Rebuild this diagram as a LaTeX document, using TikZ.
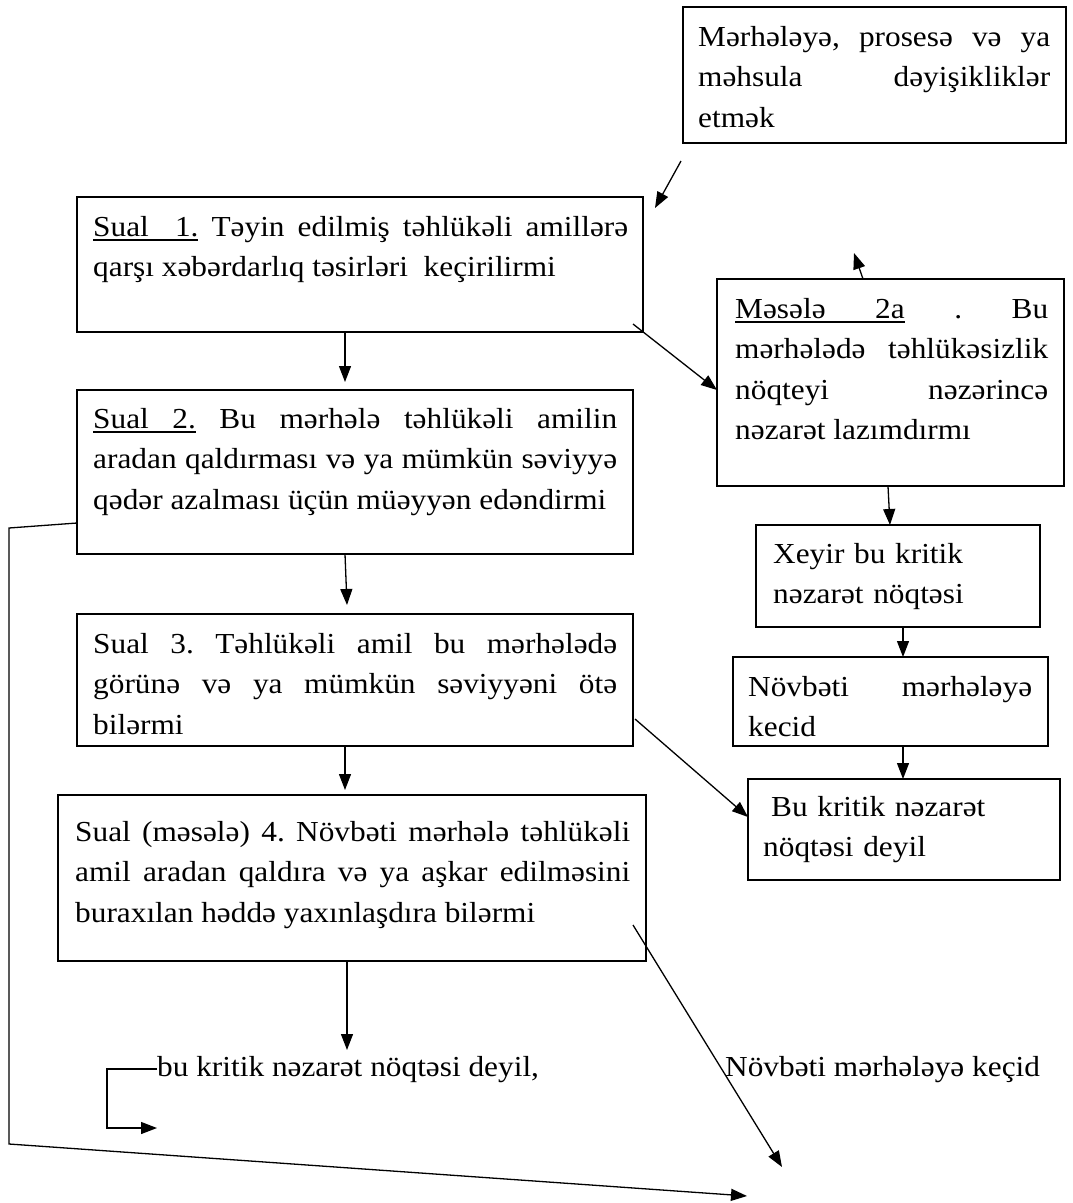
\documentclass[tikz,border=0pt]{standalone}
\usepackage{fontspec}
\setmainfont{Liberation Serif}[FakeStretch=1.08]
\usetikzlibrary{arrows.meta,calc}
\tolerance=9999
\hyphenpenalty=10000
\exhyphenpenalty=10000
\frenchspacing

% underlined word and underlined (stretchable) space
\newcommand\altsoz[1]{\setbox0\hbox{#1}\rlap{\vrule height -3.2pt depth 4.5pt width\wd0}\box0\relax}
\newcommand\altara{\leaders\hrule height -3.2pt depth 4.5pt\hskip\fontdimen2\font plus\fontdimen3\font minus\fontdimen4\font\relax}

\tikzset{
  blok/.style={draw, line width=1.3pt, anchor=north west, inner sep=0pt, outer sep=0pt},
  yazi/.style={anchor=base west, inner sep=0pt, align=justify, font=\fontsize{29}{40.5}\selectfont},
  duz/.style={anchor=base west, inner sep=0pt, align=left, font=\fontsize{29}{40.5}\selectfont},
  ox/.style={line width=1.3pt, -{Triangle[length=16pt,width=12pt]}},
}

\begin{document}
\begin{tikzpicture}[x=1pt,y=-1pt]
  \useasboundingbox (0,0) rectangle (1072,1203);

  % Define boxes
  \node[blok, minimum width=383, minimum height=136] (q0)    at (683,7)   {};
  \node[blok, minimum width=566, minimum height=135] (q1)    at (77,197)  {};
  \node[blok, minimum width=347, minimum height=207] (q2a)   at (717,279) {};
  \node[blok, minimum width=556, minimum height=164] (q2)    at (77,390)  {};
  \node[blok, minimum width=284, minimum height=102] (xeyir) at (756,525) {};
  \node[blok, minimum width=556, minimum height=132] (q3)    at (77,614)  {};
  \node[blok, minimum width=315, minimum height=89]  (kecid) at (733,657) {};
  \node[blok, minimum width=312, minimum height=101] (deyil) at (748,779) {};
  \node[blok, minimum width=588, minimum height=166] (q4)    at (58,795)  {};

  % Texts in the boxes
  \node[yazi, text width=352] (q0y) at ($(q0.north west)+(15,39)$)
    {Mərhələyə, prosesə və ya\linebreak məhsula dəyişikliklər\linebreak etmək};
  \node[yazi, text width=535] (q1y) at ($(q1.north west)+(16,39)$)
    {\altsoz{Sual}\altara\altara\altsoz{1.} Təyin edilmiş təhlükəli amillərə\linebreak qarşı xəbərdarlıq təsirləri\ \ keçirilirmi};
  \node[yazi, text width=313] (q2ay) at ($(q2a.north west)+(18,39)$)
    {\altsoz{Məsələ}\altara\altsoz{2a} . Bu\linebreak mərhələdə təhlükəsizlik\linebreak nöqteyi nəzərincə\linebreak nəzarət lazımdırmı};
  \node[yazi, text width=524] (q2y) at ($(q2.north west)+(16,38)$)
    {\altsoz{Sual}\altara\altsoz{2.} Bu mərhələ təhlükəli amilin\linebreak aradan qaldırması və ya mümkün səviyyə\linebreak qədər azalması üçün müəyyən edəndirmi};
  \node[duz, text width=255] (xeyiry) at ($(xeyir.north west)+(17,38)$)
    {Xeyir bu kritik\\nəzarət nöqtəsi};
  \node[yazi, text width=524] (q3y) at ($(q3.north west)+(16,39)$)
    {Sual 3. Təhlükəli amil bu mərhələdə\linebreak görünə və ya mümkün səviyyəni ötə\linebreak bilərmi};
  \node[yazi, text width=284] (kecidy) at ($(kecid.north west)+(15,39)$)
    {Növbəti mərhələyə\linebreak kecid};
  \node[duz, text width=285] (deyily) at ($(deyil.north west)+(15,37)$)
    {\hspace*{8pt}Bu kritik nəzarət\\nöqtəsi deyil};
  \node[yazi, text width=555] (q4y) at ($(q4.north west)+(17,46)$)
    {Sual (məsələ) 4. Növbəti mərhələ təhlükəli\linebreak amil aradan qaldıra və ya aşkar edilməsini\linebreak buraxılan həddə yaxınlaşdıra bilərmi};

  % Free texts
  \node[duz] (t1) at (157,1076) {bu kritik nəzarət nöqtəsi deyil,};
  \node[duz] (t2) at (725,1076) {Növbəti mərhələyə keçid};

  % Free ends
  \coordinate (alt)  at (782,1167);
  \coordinate (sol1) at (9,528);
  \coordinate (sol2) at (9,1144);
  \coordinate (son)  at (747,1196);
  \coordinate (k1)   at (157,1128);

  % Connect the boxes
  \draw[ox] ($(q0.south west)+(-2,18)$) -- ($(q1.north east)+(12,11)$);
  \draw[ox] ($(q2a.north west)+(146,0)$) -- ++(-9,-26);
  \draw[ox] ($(q1.south west)+(268,0)$) -- ($(q2.north west)+(268,-8)$);
  \draw[ox] ($(q1.south east)+(-10,-8)$) -- ($(q2a.north west)+(0,111)$);
  \draw[ox] ($(q2a.south west)+(171,0)$) -- ($(xeyir.north west)+(134,0)$);
  \draw[ox] ($(q2.south west)+(268,0)$) -- ($(q3.north west)+(270,-9)$);
  \draw[ox] ($(xeyir.south west)+(147,0)$) -- ($(kecid.north west)+(170,0)$);
  \draw[ox] ($(q3.south west)+(268,0)$) -- ($(q4.north west)+(287,-5)$);
  \draw[ox] ($(kecid.south west)+(170,0)$) -- ($(deyil.north west)+(155,0)$);
  \draw[ox] ($(q3.south east)+(2,-27)$) -- ($(deyil.north west)+(0,38)$);
  \draw[ox] ($(q4.south west)+(289,0)$) -- ++(0,89);
  \draw[ox] ($(q4.south east)+(-13,-36)$) -- (alt);
  \draw[ox] ($(q2.south west)+(0,-31)$) -- (sol1) -- (sol2) -- (son);
  \draw[ox] (t1.west) -- ++(-50,0) |- (k1);
\end{tikzpicture}
\end{document}
